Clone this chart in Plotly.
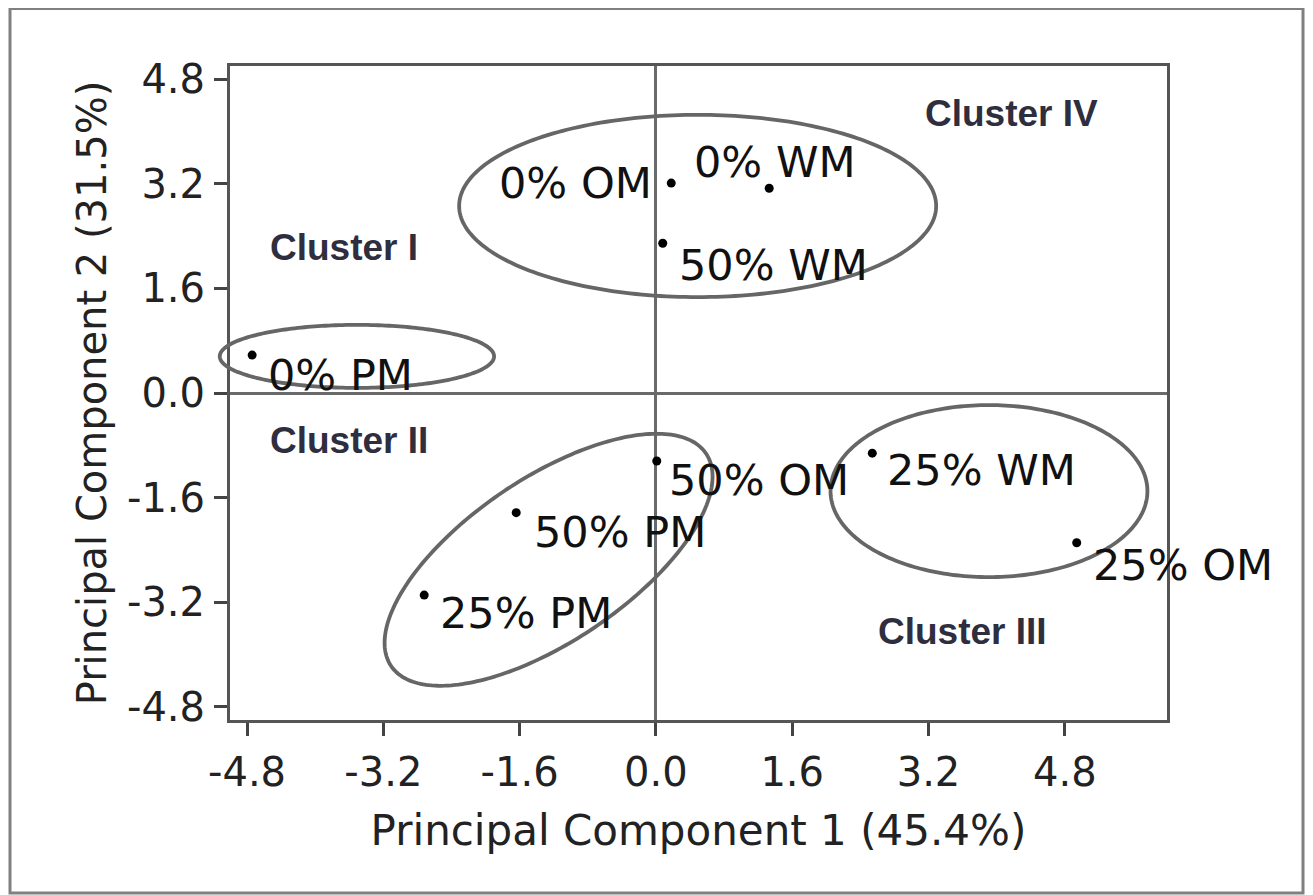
import numpy as np
import plotly.graph_objects as go

# ---- data ----
samples = ["0% OM", "0% WM", "50% WM", "0% PM", "50% OM", "50% PM", "25% PM", "25% WM", "25% OM"]
pc1 = [0.18, 1.33, 0.08, -4.74, 0.01, -1.64, -2.72, 2.54, 4.94]
pc2 = [3.21, 3.13, 2.29, 0.58, -1.04, -1.83, -3.09, -0.92, -2.29]

tick_vals = [-4.8, -3.2, -1.6, 0.0, 1.6, 3.2, 4.8]
tick_text = ["-4.8", "-3.2", "-1.6", "0.0", "1.6", "3.2", "4.8"]

cluster_names = ["Cluster I", "Cluster II", "Cluster III", "Cluster IV"]

# ellipses: centre (pc1, pc2), semi-axes (screen-isotropic, in PC1 units), angle in degrees
ell_cx = [0.49, -3.51, -1.26, 3.91]
ell_cy = [2.86, 0.56, -2.55, -1.50]
ell_a = [2.80, 1.61, 2.23, 1.86]
ell_b = [1.07, 0.37, 0.96, 1.01]
ell_ang = [0.0, 0.0, 34.0, 0.0]

# ---- layout constants (page body has an 8px margin) ----
W, H = 1305, 887
ML, MR, MT, MB = 222, 146, 58, 175
XR = [-5.0, 6.0]
YR = [-5.0, 5.0]
pw, ph = W - ML - MR, H - MT - MB
kx = pw / (XR[1] - XR[0])
ky = ph / (YR[1] - YR[0])

label_pos = [  # (xanchor, xshift, yshift)
    ("right", -17, 0),
    ("center", 6, 26),
    ("left", 14, -22),
    ("left", 14, -20),
    ("left", 10, -19),
    ("left", 16, -19),
    ("left", 14, -18),
    ("left", 13, -17),
    ("left", 14, -22),
]
cluster_pos = [(-3.66, 2.23), (-3.60, -0.72), (3.60, -3.65), (4.17, 4.28)]

FONT = "DejaVu Sans"
fig = go.Figure()


def to_paper_x(v):
    return (np.asarray(v) - XR[0]) / (XR[1] - XR[0])


def to_paper_y(v):
    return (np.asarray(v) - YR[0]) / (YR[1] - YR[0])


# ellipses drawn as paper shapes so they are not clipped at the axis (as in the reference)
t = np.linspace(0, 2 * np.pi, 241)
for cx, cy, a, b, ang in zip(ell_cx, ell_cy, ell_a, ell_b, ell_ang):
    th = np.deg2rad(ang)
    u, v = a * np.cos(t), b * np.sin(t)
    dx = u * np.cos(th) - v * np.sin(th)
    dy = u * np.sin(th) + v * np.cos(th)
    px = to_paper_x(cx + dx)
    py = to_paper_y(cy + dy * kx / ky)
    path = "M " + " L ".join(f"{x:.5f},{y:.5f}" for x, y in zip(px, py)) + " Z"
    fig.add_shape(type="path", xref="paper", yref="paper", path=path,
                  line=dict(color="#666666", width=3.8), layer="above")

fig.add_trace(go.Scatter(x=pc1, y=pc2, mode="markers",
                         marker=dict(color="black", size=9), text=samples))

for name, x, y, (xa, xs, ys) in zip(samples, pc1, pc2, label_pos):
    fig.add_annotation(x=x, y=y, text=name, showarrow=False, xanchor=xa, yanchor="middle",
                       xshift=xs, yshift=ys, font=dict(family=FONT, size=43, color="#111111"))

for name, (x, y) in zip(cluster_names, cluster_pos):
    fig.add_annotation(x=x, y=y, text=name, showarrow=False, xanchor="center", yanchor="middle",
                       font=dict(family="Liberation Sans", size=37, color="#2e2e3e", weight="bold"))

# outer frame
fig.add_shape(type="rect", xref="paper", yref="paper",
              x0=(2 - ML) / pw, x1=(1295 - ML) / pw,
              y0=(H - MB - 885) / ph, y1=(H - MB - 0.5) / ph,
              line=dict(color="#808080", width=3))

axis_common = dict(
    tickvals=tick_vals, ticktext=tick_text, ticks="outside", ticklen=13, tickwidth=2.5,
    tickcolor="#444444", showline=True, linecolor="#555555", linewidth=3, mirror=True,
    showgrid=False, zeroline=True, zerolinecolor="#6a6a6a", zerolinewidth=3,
    tickfont=dict(family=FONT, size=40, color="#222222"),
)
fig.update_xaxes(range=XR, **axis_common, ticklabelstandoff=2,
                 title=dict(text="Principal Component 1 (45.4%)", standoff=22,
                            font=dict(family=FONT, size=42, color="#222222")))
fig.update_yaxes(range=YR, **axis_common, ticklabelstandoff=1,
                 title=dict(text="Principal Component 2 (31.5%)", standoff=8,
                            font=dict(family=FONT, size=40, color="#222222")))

fig.update_layout(width=W, height=H, margin=dict(l=ML, r=MR, t=MT, b=MB),
                  plot_bgcolor="white", paper_bgcolor="white", showlegend=False)

fig.write_html("out.html")
